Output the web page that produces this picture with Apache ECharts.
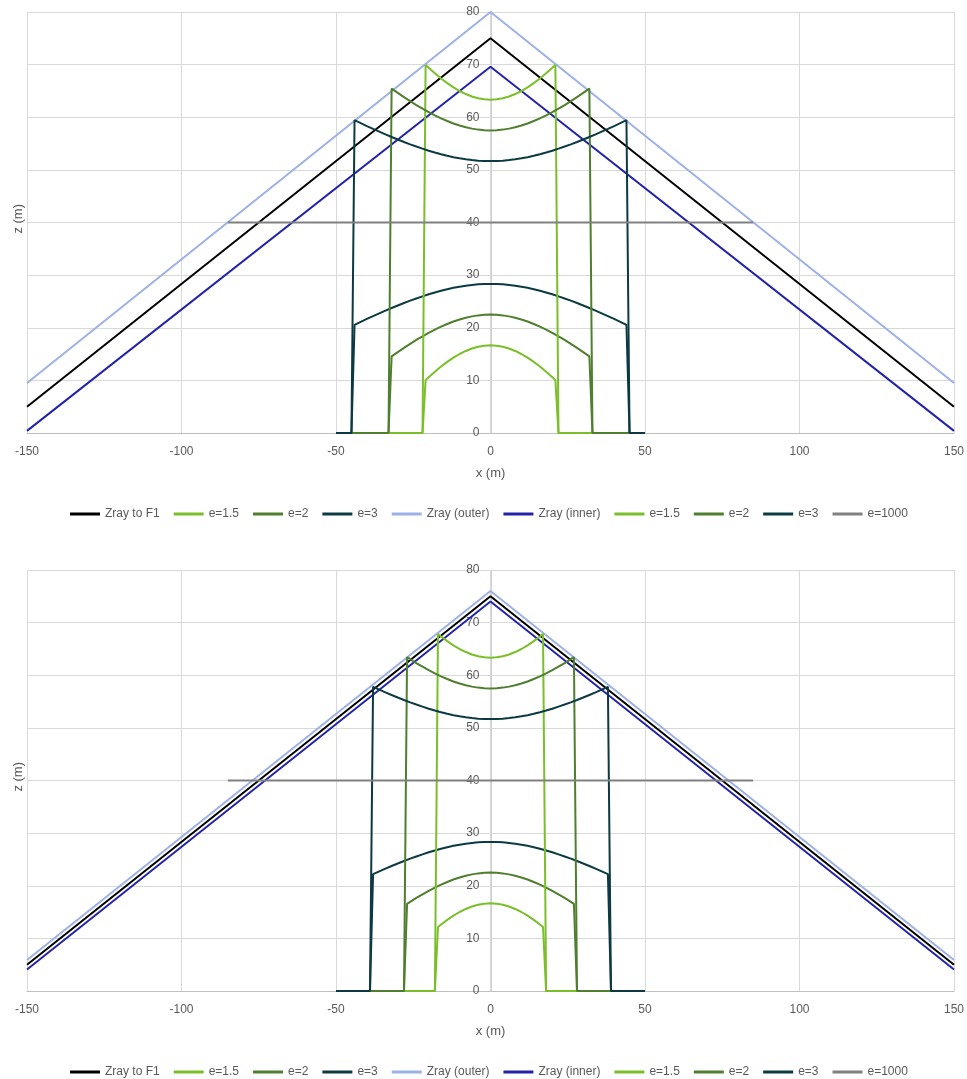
<!DOCTYPE html>
<html><head><meta charset="utf-8">
<script src="https://cdn.jsdelivr.net/npm/echarts@6/dist/echarts.min.js"></script>
<style>html,body{margin:0;padding:0;background:#fff}#c{width:967px;height:1079px}</style>
</head><body><div id="c"></div>
<script>
// ---------- tick labels ----------
const xTicks = [-150, -100, -50, 0, 50, 100, 150];
const zTicks = [0, 10, 20, 30, 40, 50, 60, 70, 80];

// ---------- legend / series names ----------
const names = ['Zray to F1', 'e=1.5', 'e=2', 'e=3', 'Zray (outer)', 'Zray (inner)', 'e=1.5', 'e=2', 'e=3', 'e=1000'];
const colors = ['#000000', '#7ABF2A', '#4F7F2E', '#0B3A42', '#9DB1E6', '#2323AA', '#7ABF2A', '#4F7F2E', '#0B3A42', '#808080'];

// ---------- ray lines ----------
const rayX = [-150, 0, 150];
const t_f1 = [5, 75, 5];
const t_outer = [9.5, 80, 9.5];
const t_inner = [0.4, 69.6, 0.4];
const b_f1 = [5, 75, 5];
const b_outer = [5.9, 76, 5.9];
const b_inner = [4.1, 74, 4.1];
const e1000X = [-85, 85];
const e1000Z = [40, 40];

// ---------- top panel ----------
const t_x15 = [-50,-22,-21,-20,-18,-16,-14,-12,-10,-8,-6,-4,-2,0,2,4,6,8,10,12,14,16,18,20,21,22,50];
const t_lo15 = [0,0,10.05,10.6,11.65,12.63,13.52,14.32,15.01,15.59,16.06,16.39,16.6,16.67,16.6,16.39,16.06,15.59,15.01,14.32,13.52,12.63,11.65,10.6,10.05,0,0];
const t_up15 = [0,0,69.95,69.4,68.35,67.37,66.48,65.68,64.99,64.41,63.94,63.61,63.4,63.33,63.4,63.61,63.94,64.41,64.99,65.68,66.48,67.37,68.35,69.4,69.95,0,0];

const t_x2 = [-50,-33,-32,-30,-28,-26,-24,-22,-20,-18,-16,-14,-12,-10,-8,-6,-4,-2,0,2,4,6,8,10,12,14,16,18,20,22,24,26,28,30,32,33,50];
const t_lo2 = [0,0,14.55,15.38,16.18,16.94,17.68,18.38,19.03,19.65,20.21,20.72,21.18,21.57,21.9,22.16,22.35,22.46,22.5,22.46,22.35,22.16,21.9,21.57,21.18,20.72,20.21,19.65,19.03,18.38,17.68,16.94,16.18,15.38,14.55,0,0];
const t_up2 = [0,0,65.45,64.62,63.82,63.06,62.32,61.62,60.97,60.35,59.79,59.28,58.82,58.43,58.1,57.84,57.65,57.54,57.5,57.54,57.65,57.84,58.1,58.43,58.82,59.28,59.79,60.35,60.97,61.62,62.32,63.06,63.82,64.62,65.45,0,0];

const t_x3 = [-50,-45,-44,-42,-40,-38,-36,-34,-32,-30,-28,-26,-24,-22,-20,-18,-16,-14,-12,-10,-8,-6,-4,-2,0,2,4,6,8,10,12,14,16,18,20,22,24,26,28,30,32,34,36,38,40,42,44,45,50];
const t_lo3 = [0,0,20.55,21.12,21.67,22.21,22.73,23.25,23.75,24.23,24.7,25.15,25.57,25.97,26.36,26.71,27.03,27.33,27.59,27.81,28,28.14,28.25,28.31,28.33,28.31,28.25,28.14,28,27.81,27.59,27.33,27.03,26.71,26.36,25.97,25.57,25.15,24.7,24.23,23.75,23.25,22.73,22.21,21.67,21.12,20.55,0,0];
const t_up3 = [0,0,59.45,58.88,58.33,57.79,57.27,56.75,56.25,55.77,55.3,54.85,54.43,54.03,53.64,53.29,52.97,52.67,52.41,52.19,52,51.86,51.75,51.69,51.67,51.69,51.75,51.86,52,52.19,52.41,52.67,52.97,53.29,53.64,54.03,54.43,54.85,55.3,55.77,56.25,56.75,57.27,57.79,58.33,58.88,59.45,0,0];

// ---------- bottom panel ----------
const b_x15 = [-50,-18,-17,-16,-14,-12,-10,-8,-6,-4,-2,0,2,4,6,8,10,12,14,16,17,18,50];
const b_lo15 = [0,0,12.15,12.63,13.52,14.32,15.01,15.59,16.06,16.39,16.6,16.67,16.6,16.39,16.06,15.59,15.01,14.32,13.52,12.63,12.15,0,0];
const b_up15 = [0,0,67.85,67.37,66.48,65.68,64.99,64.41,63.94,63.61,63.4,63.33,63.4,63.61,63.94,64.41,64.99,65.68,66.48,67.37,67.85,0,0];

const b_x2 = [-50,-28,-27,-26,-24,-22,-20,-18,-16,-14,-12,-10,-8,-6,-4,-2,0,2,4,6,8,10,12,14,16,18,20,22,24,26,27,28,50];
const b_lo2 = [0,0,16.56,16.94,17.68,18.38,19.03,19.65,20.21,20.72,21.18,21.57,21.9,22.16,22.35,22.46,22.5,22.46,22.35,22.16,21.9,21.57,21.18,20.72,20.21,19.65,19.03,18.38,17.68,16.94,16.56,0,0];
const b_up2 = [0,0,63.44,63.06,62.32,61.62,60.97,60.35,59.79,59.28,58.82,58.43,58.1,57.84,57.65,57.54,57.5,57.54,57.65,57.84,58.1,58.43,58.82,59.28,59.79,60.35,60.97,61.62,62.32,63.06,63.44,0,0];

const b_x3 = [-50,-39,-38,-36,-34,-32,-30,-28,-26,-24,-22,-20,-18,-16,-14,-12,-10,-8,-6,-4,-2,0,2,4,6,8,10,12,14,16,18,20,22,24,26,28,30,32,34,36,38,39,50];
const b_lo3 = [0,0,22.21,22.73,23.25,23.75,24.23,24.7,25.15,25.57,25.97,26.36,26.71,27.03,27.33,27.59,27.81,28,28.14,28.25,28.31,28.33,28.31,28.25,28.14,28,27.81,27.59,27.33,27.03,26.71,26.36,25.97,25.57,25.15,24.7,24.23,23.75,23.25,22.73,22.21,0,0];
const b_up3 = [0,0,57.79,57.27,56.75,56.25,55.77,55.3,54.85,54.43,54.03,53.64,53.29,52.97,52.67,52.41,52.19,52,51.86,51.75,51.69,51.67,51.69,51.75,51.86,52,52.19,52.41,52.67,52.97,53.29,53.64,54.03,54.43,54.85,55.3,55.77,56.25,56.75,57.27,57.79,0,0];

// ---------- build ----------
const FONT = 'Liberation Sans';
const TXT = '#595959';
function pts(xs, zs) { return xs.map((x, i) => [x, zs[i]]); }

const panels = [
  [pts(rayX, t_f1), pts(t_x15, t_lo15), pts(t_x2, t_lo2), pts(t_x3, t_lo3), pts(rayX, t_outer), pts(rayX, t_inner),
   pts(t_x15, t_up15), pts(t_x2, t_up2), pts(t_x3, t_up3), pts(e1000X, e1000Z)],
  [pts(rayX, b_f1), pts(b_x15, b_lo15), pts(b_x2, b_lo2), pts(b_x3, b_lo3), pts(rayX, b_outer), pts(rayX, b_inner),
   pts(b_x15, b_up15), pts(b_x2, b_up2), pts(b_x3, b_up3), pts(e1000X, e1000Z)]
];

const GRID_LEFT = 27, GRID_RIGHT = 11, GRID_W = 967 - 27 - 11;
const gridTops = [12, 570];
const grids = [], xAxes = [], yAxes = [], series = [], legends = [], graphics = [];
panels.forEach((panel, p) => {
  grids.push({ left: GRID_LEFT, right: GRID_RIGHT, top: gridTops[p], height: 421 });
  xAxes.push({
    type: 'value', gridIndex: p, min: -150, max: 150, interval: 50,
    name: 'x (m)', nameLocation: 'middle', nameGap: 34,
    nameTextStyle: { color: TXT, fontSize: 13, fontFamily: FONT },
    axisLine: { show: true, lineStyle: { color: '#bfbfbf', width: 1 } },
    axisTick: { show: false },
    axisLabel: { color: TXT, fontSize: 12, fontFamily: FONT, margin: 13,
      formatter: v => (xTicks.indexOf(v) >= 0 ? String(v) : '') },
    splitLine: { show: true, lineStyle: { color: '#d9d9d9', width: 1 } }
  });
  yAxes.push({
    type: 'value', gridIndex: p, min: 0, max: 80, interval: 10,
    offset: -GRID_W / 2,
    axisLine: { show: true, onZero: false, lineStyle: { color: '#cfcfcf', width: 1 } },
    axisTick: { show: false },
    axisLabel: { color: TXT, fontSize: 12, fontFamily: FONT, margin: 12,
      formatter: v => (zTicks.indexOf(v) >= 0 ? String(v) : '') },
    splitLine: { show: true, lineStyle: { color: '#d9d9d9', width: 1 } }
  });
  const legendData = [];
  panel.forEach((data, i) => {
    const nm = names[i] + '#' + p + '_' + i;
    legendData.push(nm);
    series.push({
      name: nm, type: 'line', xAxisIndex: p, yAxisIndex: p, data: data,
      symbol: 'none', showSymbol: false, animation: false, z: 2 + i * 0.01,
      lineStyle: { color: colors[i], width: 2 }, itemStyle: { color: colors[i] }
    });
  });
  legends.push({
    data: legendData, top: gridTops[p] + 491, left: 65,
    icon: 'rect', itemWidth: 30, itemHeight: 3, itemGap: 14,
    textStyle: { color: TXT, fontSize: 12, fontFamily: FONT },
    formatter: n => n.split('#')[0], selectedMode: false
  });
  graphics.push({
    type: 'text', left: 12, top: gridTops[p] + 210 - 18, rotation: Math.PI / 2,
    style: { text: 'z (m)', fill: TXT, font: '13px "' + FONT + '"' }
  });
});

const chart = echarts.init(document.getElementById('c'), null, { renderer: 'canvas' });
chart.setOption({
  animation: false,
  grid: grids, xAxis: xAxes, yAxis: yAxes, series: series, legend: legends,
  graphic: graphics
});
</script></body></html>
